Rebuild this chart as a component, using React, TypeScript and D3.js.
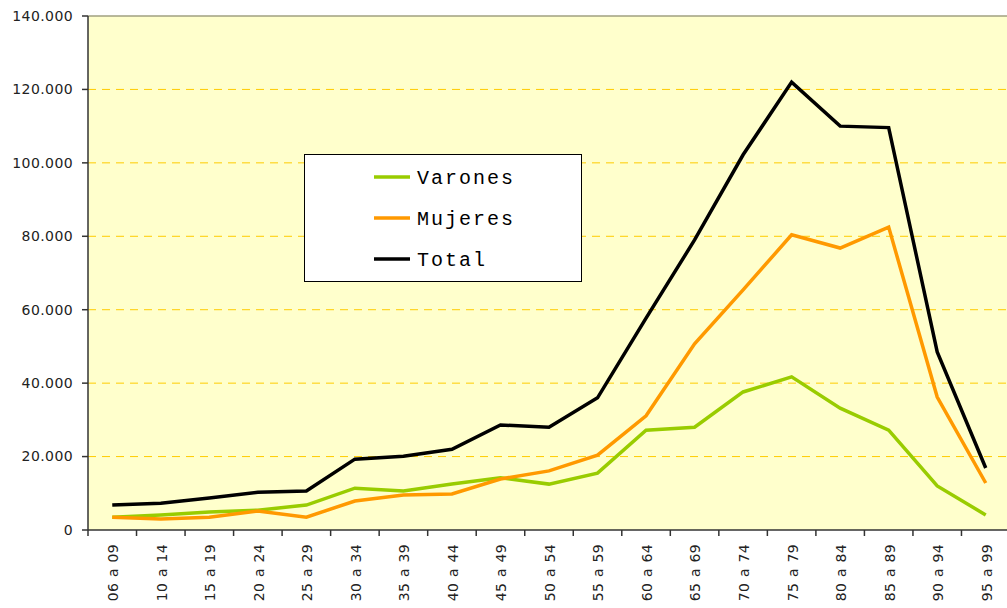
import React from 'react'
import * as d3 from 'd3'

const categories = ['06 a 09', '10 a 14', '15 a 19', '20 a 24', '25 a 29', '30 a 34', '35 a 39', '40 a 44', '45 a 49', '50 a 54', '55 a 59', '60 a 64', '65 a 69', '70 a 74', '75 a 79', '80 a 84', '85 a 89', '90 a 94', '95 a 99']
const varones = [3500, 4100, 4900, 5400, 6800, 11400, 10600, 12500, 14200, 12500, 15500, 27200, 28000, 37600, 41700, 33200, 27200, 12000, 4100]
const mujeres = [3500, 3000, 3500, 5200, 3500, 7900, 9500, 9800, 13900, 16100, 20400, 31100, 50700, 65400, 80400, 76800, 82500, 36200, 12800]
const total = [6800, 7300, 8700, 10300, 10600, 19300, 20100, 22000, 28600, 28000, 36000, 57700, 79000, 102200, 122000, 110000, 109600, 48500, 16900]
const yTicks = [0, 20000, 40000, 60000, 80000, 100000, 120000, 140000]

const series = [
  { name: 'Varones', values: varones, color: '#99CC00' },
  { name: 'Mujeres', values: mujeres, color: '#FF9900' },
  { name: 'Total', values: total, color: '#000000' },
]

const W = 1007
const H = 608
const margin = { top: 16, right: -3, bottom: 78, left: 88 }

const fmt = (v: number) => (v === 0 ? '0' : d3.format(',')(v).replace(/,/g, '.'))

export default function App() {
  const innerW = W - margin.left - margin.right
  const innerH = H - margin.top - margin.bottom
  const x = d3.scaleBand<string>().domain(categories).range([0, innerW])
  const y = d3.scaleLinear().domain([0, 140000]).range([innerH, 0])
  const line = d3.line<number>()
    .x((_, i) => (x(categories[i]) as number) + x.bandwidth() / 2)
    .y(d => y(d))

  const boundaries = categories.map(c => x(c) as number).concat([innerW])

  return (
    <div style={{ position: 'absolute', left: 0, top: 0 }}>
      <svg width={W} height={H} style={{ display: 'block', background: '#fff' }}>
        <g transform={`translate(${margin.left},${margin.top})`}>
          <rect x={0} y={0} width={innerW} height={innerH} fill="#FFFFCC" />
          {yTicks.slice(1, -1).map(t => (
            <line key={t} x1={0} x2={innerW} y1={y(t)} y2={y(t)} stroke="#FFCC00" strokeWidth={1} strokeDasharray="8,6" />
          ))}
          <line x1={0} x2={innerW} y1={0} y2={0} stroke="#A0A080" strokeWidth={1.5} />
          {series.map(s => (
            <path key={s.name} d={line(s.values) || ''} fill="none" stroke={s.color} strokeWidth={3.5} strokeLinejoin="miter" />
          ))}
          {/* axes */}
          <line x1={0} x2={0} y1={0} y2={innerH} stroke="#333" strokeWidth={1.5} />
          <line x1={0} x2={innerW} y1={innerH} y2={innerH} stroke="#333" strokeWidth={1.5} />
          {yTicks.map(t => (
            <g key={t} transform={`translate(0,${y(t)})`}>
              <line x1={-6} x2={0} stroke="#333" strokeWidth={1.5} />
              <text x={-15} dy="0.35em" textAnchor="end" fontFamily="DejaVu Sans, Verdana, sans-serif" fontSize={14} letterSpacing={0.4} fill="#222">{fmt(t)}</text>
            </g>
          ))}
          {boundaries.map((b, i) => (
            <line key={i} x1={b} x2={b} y1={innerH} y2={innerH + 6} stroke="#333" strokeWidth={1.5} />
          ))}
          {categories.map(c => (
            <text key={c} transform={`translate(${(x(c) as number) + x.bandwidth() / 2 + 1},${innerH + 14}) rotate(-90)`}
              dy="0.35em" textAnchor="end" fontFamily="DejaVu Sans, Verdana, sans-serif" fontSize={14} letterSpacing={0.3} wordSpacing={1} fill="#222">{c}</text>
          ))}
        </g>
        {/* legend */}
        <g transform="translate(304,154)">
          <rect x={0.5} y={0.5} width={277} height={127} fill="#fff" stroke="#000" strokeWidth={1} />
          {series.map((s, i) => (
            <g key={s.name} transform={`translate(0,${23 + i * 41})`}>
              <line x1={70} x2={106} y1={0} y2={0} stroke={s.color} strokeWidth={3.5} />
              <text x={113} dy="0.35em" fontFamily="Liberation Mono, monospace" fontSize={20} letterSpacing={2} fill="#000">{s.name}</text>
            </g>
          ))}
        </g>
      </svg>
    </div>
  )
}
